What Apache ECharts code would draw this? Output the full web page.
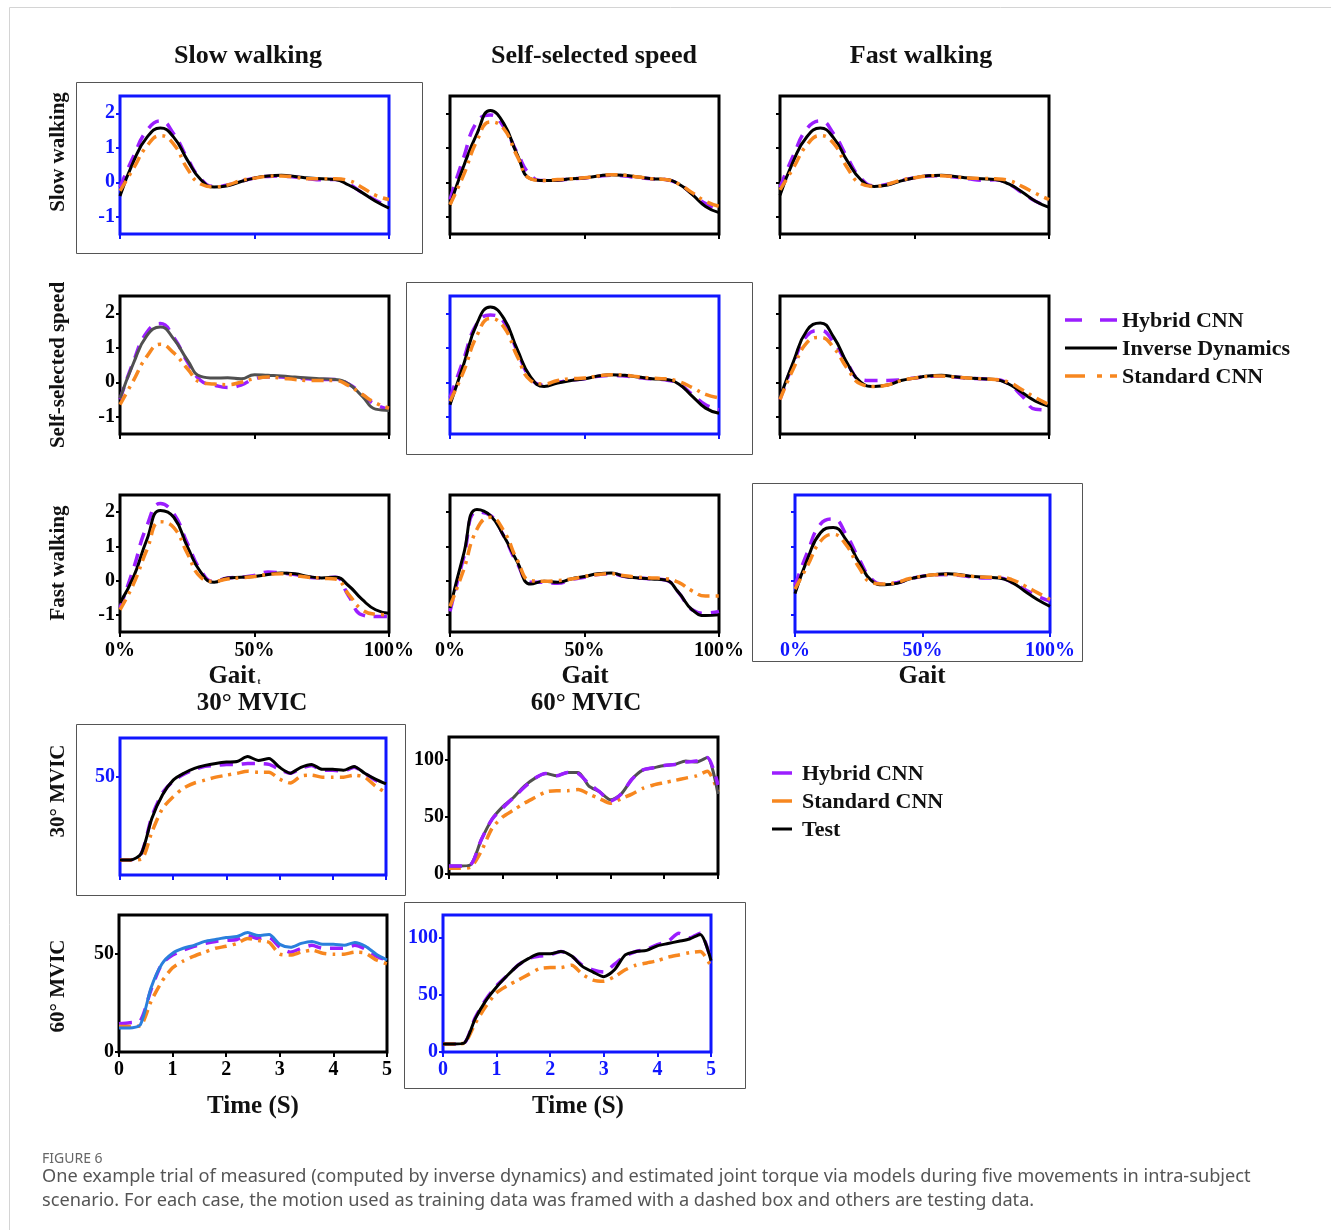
<!DOCTYPE html>
<html><head><meta charset="utf-8">
<script src="https://cdn.jsdelivr.net/npm/echarts@6/dist/echarts.min.js"></script>
<style>html,body{margin:0;padding:0;background:#fff}#c{width:1331px;height:1230px}</style>
</head><body><div id="c"></div>
<script>
// ---------- DATA ----------
const gaitPct = [0,5,10,15,20,25,30,35,40,45,50,55,60,65,70,75,80,85,90,95,100];
const gaitTicks = [-1,0,1,2];
const columnTitles = ['Slow walking','Self-selected speed','Fast walking'];
const rowTitles = ['Slow walking','Self-selected speed','Fast walking','30° MVIC','60° MVIC'];

// Slow walking row
const slowSlowHybrid = [-0.15,0.75,1.50,1.78,1.40,0.70,0.10,-0.12,-0.08,0.03,0.12,0.17,0.18,0.15,0.10,0.07,0.08,-0.05,-0.30,-0.52,-0.72];
const slowSlowID     = [-0.40,0.60,1.30,1.57,1.30,0.65,0.08,-0.14,-0.10,0.02,0.12,0.18,0.20,0.17,0.12,0.10,0.08,-0.08,-0.30,-0.55,-0.75];
const slowSlowStd    = [-0.25,0.40,1.05,1.35,1.10,0.40,-0.05,-0.13,-0.08,0.05,0.12,0.17,0.18,0.15,0.10,0.10,0.10,0.05,-0.15,-0.38,-0.50];
const slowSelfHybrid = [-0.50,0.70,1.75,1.95,1.60,0.85,0.20,0.05,0.06,0.10,0.12,0.17,0.20,0.18,0.13,0.10,0.08,-0.05,-0.33,-0.62,-0.78];
const slowSelfID     = [-0.67,0.45,1.40,2.08,1.70,0.80,0.10,0.05,0.06,0.10,0.12,0.18,0.22,0.20,0.15,0.10,0.08,-0.05,-0.35,-0.70,-0.88];
const slowSelfStd    = [-0.65,0.20,1.20,1.75,1.55,0.75,0.10,0.05,0.08,0.10,0.13,0.18,0.22,0.20,0.15,0.10,0.08,-0.05,-0.30,-0.55,-0.70];
const slowFastHybrid = [-0.15,0.78,1.55,1.78,1.40,0.72,0.12,-0.10,-0.06,0.05,0.13,0.18,0.19,0.15,0.10,0.06,0.07,-0.05,-0.30,-0.55,-0.72];
const slowFastID     = [-0.38,0.62,1.32,1.57,1.28,0.62,0.08,-0.12,-0.08,0.04,0.13,0.19,0.20,0.17,0.12,0.10,0.08,-0.05,-0.28,-0.55,-0.73];
const slowFastStd    = [-0.22,0.42,1.08,1.35,1.12,0.42,-0.04,-0.12,-0.06,0.06,0.13,0.18,0.19,0.16,0.12,0.11,0.10,0.05,-0.12,-0.32,-0.50];
// Self-selected speed row
const selfSlowHybrid = [-0.50,0.60,1.45,1.70,1.30,0.60,0.05,-0.08,-0.15,-0.08,0.10,0.15,0.15,0.12,0.10,0.08,0.08,-0.05,-0.35,-0.65,-0.78];
const selfSlowID     = [-0.47,0.55,1.35,1.60,1.25,0.65,0.17,0.12,0.13,0.10,0.22,0.20,0.18,0.15,0.12,0.10,0.08,-0.05,-0.40,-0.78,-0.82];
const selfSlowStd    = [-0.65,0.05,0.75,1.10,0.85,0.40,0.00,-0.05,-0.07,0.00,0.10,0.15,0.12,0.08,0.05,0.05,0.05,-0.10,-0.35,-0.60,-0.75];
const selfSelfHybrid = [-0.45,0.65,1.70,1.95,1.75,0.90,0.12,-0.08,0.00,0.06,0.10,0.17,0.20,0.18,0.13,0.10,0.07,-0.05,-0.35,-0.65,-0.80];
const selfSelfID     = [-0.65,0.50,1.70,2.18,1.85,0.95,0.15,-0.12,-0.02,0.05,0.10,0.18,0.22,0.20,0.15,0.10,0.08,-0.05,-0.40,-0.75,-0.90];
const selfSelfStd    = [-0.55,0.30,1.35,1.85,1.60,0.75,0.05,-0.05,0.05,0.10,0.12,0.18,0.22,0.20,0.16,0.12,0.10,0.02,-0.15,-0.35,-0.45];
const selfFastHybrid = [-0.50,0.55,1.35,1.50,1.15,0.55,0.08,0.05,0.05,0.07,0.12,0.17,0.18,0.15,0.12,0.10,0.08,-0.05,-0.40,-0.78,-0.80];
const selfFastID     = [-0.45,0.60,1.50,1.72,1.30,0.55,0.00,-0.12,-0.08,0.05,0.12,0.18,0.20,0.16,0.12,0.10,0.08,-0.05,-0.30,-0.55,-0.70];
const selfFastStd    = [-0.50,0.40,1.15,1.30,1.00,0.40,-0.05,-0.12,-0.08,0.05,0.12,0.17,0.18,0.15,0.12,0.10,0.08,0.00,-0.22,-0.45,-0.65];
// Fast walking row
const fastSlowHybrid = [-0.80,0.35,1.60,2.25,1.95,1.10,0.30,-0.03,0.08,0.10,0.15,0.25,0.22,0.18,0.10,0.08,0.10,-0.45,-1.00,-1.05,-1.05];
const fastSlowID     = [-0.65,0.10,1.20,2.05,1.85,1.00,0.25,-0.05,0.08,0.10,0.12,0.18,0.22,0.20,0.12,0.08,0.10,-0.15,-0.55,-0.85,-0.95];
const fastSlowStd    = [-0.85,-0.10,0.90,1.72,1.55,0.80,0.10,-0.02,0.05,0.08,0.12,0.18,0.20,0.15,0.10,0.07,0.05,-0.40,-0.85,-0.98,-1.00];
const fastSelfHybrid = [-0.90,0.65,2.00,1.90,1.30,0.50,-0.05,-0.05,-0.08,0.03,0.10,0.18,0.20,0.12,0.08,0.05,0.02,-0.35,-0.85,-0.95,-0.90];
const fastSelfID     = [-0.80,0.75,2.08,1.90,1.30,0.55,-0.10,-0.02,-0.05,0.05,0.12,0.20,0.22,0.12,0.08,0.05,0.02,-0.35,-0.85,-1.02,-1.00];
const fastSelfStd    = [-0.75,0.30,1.50,1.85,1.45,0.60,0.00,-0.02,0.00,0.05,0.12,0.18,0.20,0.14,0.10,0.08,0.06,-0.05,-0.30,-0.45,-0.45];
const fastFastHybrid = [-0.15,0.85,1.65,1.80,1.35,0.65,0.05,-0.10,-0.06,0.05,0.13,0.17,0.18,0.15,0.10,0.08,0.08,-0.05,-0.25,-0.45,-0.60];
const fastFastID     = [-0.38,0.65,1.40,1.55,1.20,0.55,0.00,-0.12,-0.08,0.05,0.13,0.18,0.20,0.17,0.12,0.10,0.08,-0.05,-0.30,-0.55,-0.75];
const fastFastStd    = [-0.25,0.45,1.15,1.35,1.05,0.40,-0.05,-0.10,-0.05,0.06,0.13,0.17,0.18,0.16,0.12,0.10,0.10,0.03,-0.15,-0.35,-0.55];

// MVIC (time in seconds)
const mvicTime = [0,0.2,0.4,0.6,0.8,1.0,1.2,1.4,1.6,1.8,2.0,2.2,2.4,2.6,2.8,3.0,3.2,3.4,3.6,3.8,4.0,4.2,4.4,4.6,4.8,5.0];
const m30m30Hybrid = [7.7,7.7,11,30,42,48,51.5,54,55.5,56,56.5,56.5,57,57,56.5,54,52,54.5,56,53.5,53.5,53,55,52,48.5,46.5];
const m30m30Test   = [7.7,7.7,11,29,41,48.5,52,54.5,56,57,57.7,58,60.5,58.5,59.5,55,52,55,56.5,54,54,53.5,55.5,52,49,46.5];
const m30m30Std    = [7.7,7.7,8,22,34,40,44.5,47,48.5,50,51,52,53,52.5,52.5,49,47,50.5,51,50,50,50,51,50,45.5,42];
const m30m60Hybrid = [7,7,8,30,48,58,67,76,84,88,86,89,88,79,72,64,70,83,91,93,95,96,98,99,102,78];
const m30m60Test   = [7,7,8,30,48,59,67,77,84,88,86,89,89,77,72,65,70,83,91,93,95,96,99,98,102,70];
const m30m60Std    = [5,5,6,20,40,50,56,62,67,72,73,73,74,70,66,62,66,70,75,78,80,82,84,86,90,72];
const m60m30Hybrid = [14.5,15,16,32,45,49.5,52,54,55.5,56.5,57,57.5,59.5,58,58.5,53.5,51,53,54.5,53,53,53,54.5,52.5,49,47];
const m60m30Test   = [12.3,12.3,14,33,45,50.5,53,54.5,56.5,57.5,58.5,59,61,59.5,60,55,53.5,55.5,56.5,55,55,54.5,56,54,50,47];
const m60m30Std    = [13,13,13.5,26,36,43,46.5,49,51,53,54,55.5,58,57,56,50,49.5,51,52,50.5,50,50,51,50.5,47,45];
const m60m60Hybrid = [7,7,8,30,46,58,67,76,82,84,85,88,84,76,72,70,77,84,88,90,94,97,104,100,104,80];
const m60m60Test   = [7,7,8,29,45,57,67,76,82,86,86,88,84,75,70,66,72,85,88,89,93,95,97,99,103,80];
const m60m60Std    = [7,7,8,25,40,52,58,63,68,73,74,74,76,68,63,62,66,72,76,78,80,83,85,87,88,75];

// ---------- STYLE ----------
const SERIF = '"Liberation Serif","Times New Roman",serif';
const BLUE = '#1016ff', PURPLE = '#9b1eff', ORANGE = '#f7871f', BLACK = '#000000';
const styles = {
  hybrid: {color: PURPLE, width: 3.5, type: [13, 9]},
  id:     {color: BLACK, width: 3, type: 'solid'},
  idgray: {color: '#505050', width: 3, type: 'solid'},
  idblue: {color: '#2a7fdc', width: 3, type: 'solid'},
  std:    {color: ORANGE, width: 3.5, type: [12, 6, 3, 6]}
};

const grids = [], xAxes = [], yAxes = [], series = [];
function addPanel(p) {
  const gi = grids.length;
  const frame = p.train ? BLUE : BLACK;
  grids.push({left: p.left, top: p.top, width: p.width, height: p.height, show: true,
    borderColor: frame, borderWidth: 3, backgroundColor: 'transparent'});
  const lblStyle = {color: frame, fontFamily: SERIF, fontWeight: 'bold', fontSize: 20};
  xAxes.push({gridIndex: gi, type: 'value', min: p.xMin, max: p.xMax, interval: p.xInterval, position: 'bottom',
    axisLine: {show: false, onZero: false}, splitLine: {show: false},
    axisTick: {show: true, length: 5, lineStyle: {width: 2, color: frame}},
    axisLabel: Object.assign({show: p.showX, margin: p.xMargin || 9, formatter: p.xFmt || '{value}'}, lblStyle)});
  yAxes.push({gridIndex: gi, type: 'value', min: p.yMin, max: p.yMax, position: 'left',
    axisLine: {show: false, onZero: false}, splitLine: {show: false},
    axisTick: {show: true, length: 4, lineStyle: {width: 2, color: frame}, customValues: p.yTicks},
    axisLabel: Object.assign({show: p.showY, margin: 5, customValues: p.yTicks}, lblStyle)});
  p.lines.forEach(l => {
    const st = styles[l.kind];
    series.push({type: 'line', xAxisIndex: gi, yAxisIndex: gi, showSymbol: false, symbol: 'none',
      smooth: p.smooth, clip: true, z: 3,
      data: p.x.map((x, i) => [x, l.data[i]]),
      lineStyle: {color: st.color, width: st.width, type: st.type, cap: 'butt', join: 'round'}});
  });
}

function gait(left, top, width, height, train, showY, showX, lines) {
  addPanel({left, top, width, height, train, showY, showX, x: gaitPct, xMin: 0, xMax: 100, xInterval: 50,
    xFmt: '{value}%', yMin: -1.5, yMax: 2.5, yTicks: gaitTicks, smooth: 0.5, lines});
}
function trio(h, id, s, idKind) {
  return [{data: h, kind: 'hybrid'}, {data: id, kind: idKind || 'id'}, {data: s, kind: 'std'}];
}
gait(120, 96, 269, 138, true,  true,  false, trio(slowSlowHybrid, slowSlowID, slowSlowStd));
gait(450, 96, 269, 138, false, false, false, trio(slowSelfHybrid, slowSelfID, slowSelfStd));
gait(780, 96, 269, 138, false, false, false, trio(slowFastHybrid, slowFastID, slowFastStd));
gait(120, 296, 269, 138, false, true,  false, trio(selfSlowHybrid, selfSlowID, selfSlowStd, 'idgray'));
gait(450, 296, 269, 138, true,  false, false, trio(selfSelfHybrid, selfSelfID, selfSelfStd));
gait(780, 296, 269, 138, false, false, false, trio(selfFastHybrid, selfFastID, selfFastStd));
gait(120, 495, 269, 137, false, true,  true,  trio(fastSlowHybrid, fastSlowID, fastSlowStd));
gait(450, 495, 269, 137, false, false, true,  trio(fastSelfHybrid, fastSelfID, fastSelfStd));
gait(795, 495, 255, 137, true,  false, true,  trio(fastFastHybrid, fastFastID, fastFastStd));

function mvic(left, top, width, height, train, yMax, yTicks, showX, lines) {
  addPanel({left, top, width, height, train, showY: true, showX, x: mvicTime, xMin: 0, xMax: 5, xInterval: 1,
    xMargin: 8, yMin: 0, yMax, yTicks, smooth: 0.25, lines});
}
mvic(120, 738, 266, 137, true,  70,  [50],        false,
  [{data: m30m30Hybrid, kind: 'hybrid'}, {data: m30m30Std, kind: 'std'}, {data: m30m30Test, kind: 'id'}]);
mvic(449, 737, 269, 137, false, 120, [0, 50, 100], false,
  [{data: m30m60Std, kind: 'std'}, {data: m30m60Test, kind: 'idgray'}, {data: m30m60Hybrid, kind: 'hybrid'}]);
mvic(119, 915, 268, 137, false, 70,  [0, 50],     true,
  [{data: m60m30Hybrid, kind: 'hybrid'}, {data: m60m30Std, kind: 'std'}, {data: m60m30Test, kind: 'idblue'}]);
mvic(443, 915, 268, 137, true,  120, [0, 50, 100], true,
  [{data: m60m60Hybrid, kind: 'hybrid'}, {data: m60m60Std, kind: 'std'}, {data: m60m60Test, kind: 'id'}]);

// ---------- ANNOTATIONS ----------
const G = [];
function txt(x, y, text, size, opts) {
  G.push(Object.assign({type: 'text', x, y, silent: true, style: Object.assign({text, fill: '#111',
    font: 'bold ' + size + 'px ' + SERIF, textAlign: 'center', textVerticalAlign: 'middle'}, (opts && opts.style) || {})},
    opts && opts.rotation ? {rotation: opts.rotation} : {}));
}
function frame(x1, y1, x2, y2) {
  G.push({type: 'rect', silent: true, shape: {x: x1 + 0.5, y: y1 + 0.5, width: x2 - x1, height: y2 - y1},
    style: {fill: 'none', stroke: '#555', lineWidth: 1}});
}
function seg(x1, x2, y, st) {
  G.push({type: 'line', silent: true, shape: {x1, y1: y, x2, y2: y},
    style: {stroke: st.color, lineWidth: st.width, lineDash: Array.isArray(st.type) ? st.type : null}});
}
// page border
G.push({type: 'polyline', silent: true, shape: {points: [[9.5, 1230], [9.5, 7.5], [1331, 7.5]]},
  style: {fill: 'none', stroke: '#d4d4d4', lineWidth: 1}});
// training frames
frame(76, 82, 422, 253);
frame(406, 282, 752, 454);
frame(752, 483, 1082, 661);
frame(76, 724, 405, 895);
frame(404, 902, 745, 1088);
// column titles
txt(248, 56, columnTitles[0], 26);
txt(594, 56, columnTitles[1], 26);
txt(921, 56, columnTitles[2], 26);
// row titles (rotated)
[[152, 0], [365, 1], [563, 2], [791, 3], [986, 4]].forEach(([y, i]) =>
  txt(59, y, rowTitles[i], 21, {rotation: Math.PI / 2}));
// axis names
txt(232, 677, 'Gait', 25);
txt(259, 682, 't', 9);
txt(585, 677, 'Gait', 25);
txt(922, 677, 'Gait', 25);
txt(252, 704, '30° MVIC', 25);
txt(586, 704, '60° MVIC', 25);
txt(253, 1107, 'Time (S)', 25);
txt(578, 1107, 'Time (S)', 25);
// legend 1
seg(1065, 1117, 320, {color: PURPLE, width: 3.5, type: [17, 18]});
seg(1065, 1117, 348, {color: BLACK, width: 3, type: 'solid'});
seg(1065, 1117, 376, {color: ORANGE, width: 3.5, type: [20, 12, 5, 8]});
txt(1122, 321, 'Hybrid CNN', 22, {style: {textAlign: 'left'}});
txt(1122, 349, 'Inverse Dynamics', 22, {style: {textAlign: 'left'}});
txt(1122, 377, 'Standard CNN', 22, {style: {textAlign: 'left'}});
// legend 2
seg(772, 792, 773, {color: PURPLE, width: 3.5, type: 'solid'});
seg(772, 792, 801, {color: ORANGE, width: 3.5, type: 'solid'});
seg(772, 792, 829, {color: BLACK, width: 3, type: 'solid'});
txt(802, 774, 'Hybrid CNN', 22, {style: {textAlign: 'left'}});
txt(802, 802, 'Standard CNN', 22, {style: {textAlign: 'left'}});
txt(802, 830, 'Test', 22, {style: {textAlign: 'left'}});
// caption
G.push({type: 'text', x: 42, y: 1159, silent: true, style: {text: 'FIGURE 6', fill: '#666',
  font: '14px "Noto Sans", sans-serif', textVerticalAlign: 'middle'}});
G.push({type: 'text', x: 42, y: 1177, silent: true, style: {text: 'One example trial of measured (computed by inverse dynamics) and estimated joint torque via models during five movements in intra-subject',
  fill: '#555', font: '18.2px "Noto Sans", sans-serif', textVerticalAlign: 'middle'}});
G.push({type: 'text', x: 42, y: 1201, silent: true, style: {text: 'scenario. For each case, the motion used as training data was framed with a dashed box and others are testing data.',
  fill: '#555', font: '18.2px "Noto Sans", sans-serif', textVerticalAlign: 'middle'}});

const chart = echarts.init(document.getElementById('c'), null, {renderer: 'canvas'});
chart.setOption({animation: false, backgroundColor: '#fff', grid: grids, xAxis: xAxes, yAxis: yAxes,
  series, graphic: G});
</script></body></html>
